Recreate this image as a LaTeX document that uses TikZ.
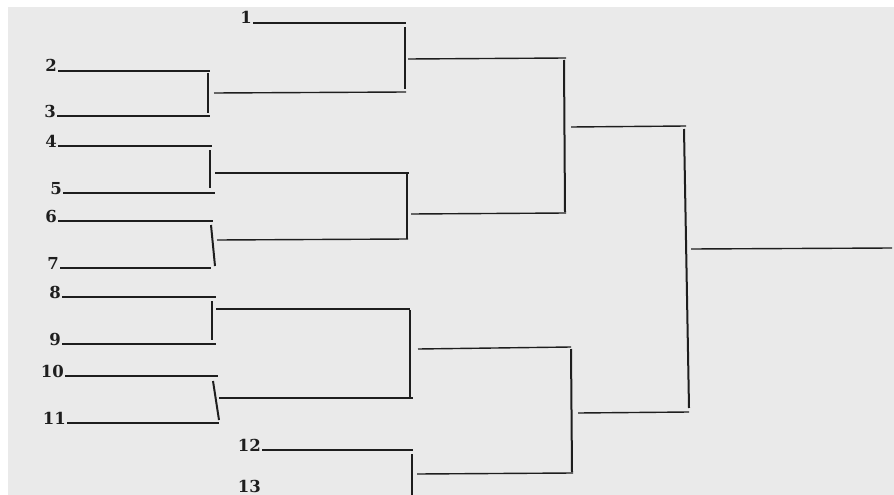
\documentclass[tikz,border=0pt]{standalone}
\usepackage{fontspec}
\newfontfamily\lblfont{DejaVu Serif}
\definecolor{paper}{HTML}{EAEAEA}
\definecolor{ink}{HTML}{1E1E1E}
\begin{document}
\begin{tikzpicture}[x=1pt,y=-1pt,
  lab/.style={font=\lblfont\bfseries\fontsize{16.5}{16.5}\selectfont, inner sep=0pt, anchor=base east, text=ink},
  hln/.style={draw=ink, line width=1.4pt},
  vln/.style={draw=ink, line width=2pt}]
\useasboundingbox (0,0) rectangle (894,495);
\fill[white] (0,0) rectangle (894,495);
\fill[paper] (8,7) rectangle (894,495);
% player line starts/ends
\foreach \n/\xs/\xe/\y in {1/253/406/23, 2/58/210/71, 3/57/210/116, 4/58/212/146, 5/63/215/193,
  6/58/213/221, 7/60/211/268, 8/62/216/297, 9/62/216/344, 10/65/218/376, 11/67/219/423, 12/262/413/450}{
  \coordinate (s\n) at (\xs,\y);
  \coordinate (e\n) at (\xe,\y);
  \node[lab] (l\n) at ([xshift=-1pt,yshift=-1pt]s\n) {\n};
  \draw[hln] (s\n) -- (e\n);
}
\node[lab] (l13) at (261,492) {13};
% first-round joins
\coordinate (a1) at (208,73);  \coordinate (a2) at (208,113);
\coordinate (b1) at (210,150); \coordinate (b2) at (210,188);
\coordinate (c1) at (211,225); \coordinate (c2) at (215,266);
\coordinate (d1) at (212,301); \coordinate (d2) at (212,340);
\coordinate (f1) at (213,381); \coordinate (f2) at (219,420);
\coordinate (g1) at (412,454); \coordinate (g2) at (412,495);
\draw[vln] (a1) -- (a2);
\draw[vln] (b1) -- (b2);
\draw[vln] (c1) -- (c2);
\draw[vln] (d1) -- (d2);
\draw[vln] (f1) -- (f2);
\draw[vln] (g1) -- (g2);
% outputs of first round
\coordinate (am) at (214,93);  \coordinate (amx) at (406,92);
\coordinate (bm) at (215,173); \coordinate (bmx) at (409,173);
\coordinate (cm) at (217,240); \coordinate (cmx) at (408,239);
\coordinate (dm) at (216,309); \coordinate (dmx) at (410,309);
\coordinate (fm) at (219,398); \coordinate (fmx) at (413,398);
\coordinate (gm) at (417,474); \coordinate (gmx) at (573,473);
\draw[hln] (am) -- (amx);
\draw[hln] (bm) -- (bmx);
\draw[hln] (cm) -- (cmx);
\draw[hln] (dm) -- (dmx);
\draw[hln] (fm) -- (fmx);
\draw[hln] (gm) -- (gmx);
% quarter-final joins
\coordinate (q1a) at (405,27);  \coordinate (q1b) at (405,89);
\coordinate (q2a) at (407,174); \coordinate (q2b) at (407,239);
\coordinate (q3a) at (410,310); \coordinate (q3b) at (410,397);
\draw[vln] (q1a) -- (q1b);
\draw[vln] (q2a) -- (q2b);
\draw[vln] (q3a) -- (q3b);
\coordinate (q1m) at (408,59);  \coordinate (q1x) at (566,58);
\coordinate (q2m) at (411,214); \coordinate (q2x) at (566,213);
\coordinate (q3m) at (418,349); \coordinate (q3x) at (571,347);
\draw[hln] (q1m) -- (q1x);
\draw[hln] (q2m) -- (q2x);
\draw[hln] (q3m) -- (q3x);
% semi-final joins
\coordinate (s1a) at (564,60);  \coordinate (s1b) at (565,212);
\coordinate (s2a) at (571,349); \coordinate (s2b) at (572,472);
\draw[vln] (s1a) -- (s1b);
\draw[vln] (s2a) -- (s2b);
\coordinate (s1m) at (571,127); \coordinate (s1x) at (686,126);
\coordinate (s2m) at (578,413); \coordinate (s2x) at (689,412);
\draw[hln] (s1m) -- (s1x);
\draw[hln] (s2m) -- (s2x);
% final
\coordinate (fa) at (684,129); \coordinate (fb) at (689,408);
\draw[vln] (fa) -- (fb);
\coordinate (fm0) at (691,249); \coordinate (fx) at (892,248);
\draw[hln] (fm0) -- (fx);
\end{tikzpicture}
\end{document}
